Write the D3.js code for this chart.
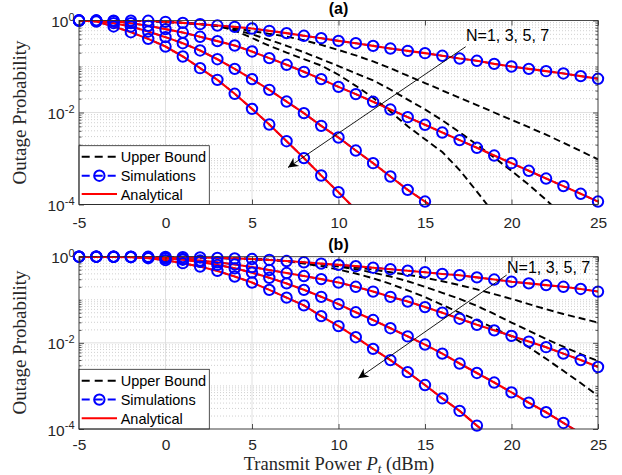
<!DOCTYPE html>
<html><head><meta charset="utf-8">
<script src="https://cdn.jsdelivr.net/npm/d3@7"></script>
<style>body{margin:0;background:#fff}</style>
</head><body><svg id="chart" width="622" height="475"></svg>
<script>
// ---------- data ----------
const powerDbm = [-5,-4,-3,-2,-1,0,1,2,3,4,5,6,7,8,9,10,11,12,13,14,15,16,17,18,19,20,21,22,23,24,25];
const xTicks = [-5,0,5,10,15,20,25];
const yTickExps = [0,-2,-4];
const legendLabels = ["Upper Bound","Simulations","Analytical"];
const arrowLabel = "N=1, 3, 5, 7";
const panelTitles = ["(a)","(b)"];
const xLabel = "Transmit Power ";
const yLabel = "Outage Probability";

// panel (a): analytical / simulation (N = 1, 3, 5, 7), values from -5 dBm upward
const a_N1 = [0.999,0.998,0.996,0.993,0.984,0.935,0.889,0.832,0.778,0.728,0.670,0.596,0.531,0.465,0.413,0.361,0.321,0.281,0.246,0.219,0.195,0.171,0.149,0.133,0.114,0.100,0.0889,0.0792,0.0705,0.0617,0.0540];
const a_N3 = [0.999,0.997,0.967,0.875,0.766,0.649,0.548,0.442,0.356,0.286,0.212,0.152,0.109,0.0766,0.0531,0.0361,0.0251,0.0171,0.0116,0.00792,0.00540,0.00367,0.00251,0.00171,0.00116,0.000792,0.000540,0.000367,0.000251,0.000171,0.000116];
const a_N5 = [0.999,0.984,0.875,0.741,0.577,0.435,0.321,0.223,0.144,0.0889,0.0531,0.0311,0.0173,0.00968,0.00513,0.00286,0.00149,0.000792,0.000406,0.000208,0.000116,0.0000627];
const a_N7 = [0.999,0.951,0.741,0.557,0.399,0.272,0.165,0.0920,0.0513,0.0255,0.0120,0.00548,0.00238,0.00102,0.000427,0.000185,0.0000766];
// panel (a): upper bounds
const a_UB1 = [0.999,0.998,0.996,0.993,0.984,0.935,0.889,0.832,0.759,0.676,0.589,0.513,0.447,0.372,0.295,0.229,0.174,0.129,0.0912,0.0631,0.0437,0.0302,0.0209,0.0145,0.0100,0.00692,0.00479,0.00331,0.00219,0.00145,0.000955];
const a_UB2 = [0.999,0.998,0.996,0.993,0.984,0.935,0.889,0.832,0.759,0.631,0.501,0.380,0.282,0.204,0.145,0.102,0.0708,0.0501,0.0316,0.0191,0.0117,0.00676,0.00372,0.00200,0.00105,0.000537,0.000269,0.000126,0.0000562];
const a_UB3 = [0.999,0.998,0.996,0.993,0.984,0.935,0.889,0.832,0.759,0.603,0.417,0.282,0.200,0.145,0.105,0.0661,0.0380,0.0209,0.0105,0.00501,0.00263,0.00138,0.000562,0.000191,0.0000631];

// panel (b)
const b_N1 = [0.999,0.999,0.999,0.999,0.995,0.989,0.977,0.959,0.937,0.912,0.881,0.841,0.794,0.741,0.692,0.646,0.603,0.556,0.513,0.473,0.437,0.398,0.372,0.331,0.295,0.263,0.240,0.219,0.200,0.178,0.155];
const b_N3 = [0.999,0.998,0.995,0.986,0.966,0.933,0.881,0.813,0.741,0.661,0.575,0.490,0.417,0.355,0.302,0.251,0.200,0.155,0.117,0.0912,0.0676,0.0501,0.0363,0.0263,0.0195,0.0145,0.0107,0.00794,0.00562,0.00398,0.00275];
const b_N5 = [0.999,0.998,0.998,0.989,0.966,0.923,0.851,0.759,0.646,0.537,0.427,0.324,0.240,0.170,0.117,0.0794,0.0513,0.0339,0.0219,0.0141,0.00912,0.00562,0.00331,0.00200,0.00120,0.000708,0.000407,0.000245,0.000138,0.0000794];
const b_N7 = [0.999,0.998,0.993,0.973,0.923,0.832,0.708,0.589,0.468,0.347,0.251,0.170,0.112,0.0741,0.0417,0.0245,0.0135,0.00724,0.00398,0.00209,0.00105,0.000513,0.000263,0.000120,0.0000562];
const b_UB1 = [0.999,0.999,0.999,0.999,0.995,0.989,0.977,0.959,0.937,0.912,0.881,0.841,0.794,0.724,0.676,0.617,0.562,0.501,0.437,0.380,0.324,0.269,0.219,0.174,0.135,0.105,0.0794,0.0603,0.0468,0.0372,0.0295];
const b_UB2 = [0.999,0.999,0.999,0.999,0.995,0.989,0.977,0.959,0.937,0.912,0.881,0.841,0.794,0.724,0.661,0.589,0.513,0.427,0.347,0.269,0.200,0.145,0.105,0.0724,0.0468,0.0295,0.0191,0.0123,0.00813,0.00550,0.00380];
const b_UB3 = [0.999,0.999,0.999,0.999,0.995,0.989,0.977,0.959,0.937,0.912,0.881,0.841,0.794,0.692,0.603,0.501,0.407,0.316,0.234,0.166,0.115,0.0759,0.0501,0.0339,0.0219,0.0141,0.00794,0.00427,0.00224,0.00117,0.000589];

// ---------- drawing ----------
const svg = d3.select('#chart');
const SANS = '"Liberation Sans", Arial, Helvetica, sans-serif';
const SERIF = '"Liberation Serif", "Times New Roman", serif';
const AXC = '#262626';
const L = 79, R = 598;
const defs = svg.append('defs');

const panels = [
  {name:'a', title:panelTitles[0], top:20.5, bottom:204.5, curves:[a_N1,a_N3,a_N5,a_N7], bounds:[a_UB1,a_UB2,a_UB3],
   legTop:145.7, legRows:[156.7,175.7,193.9], arrow:{x1:465.7,y1:46.7,x2:288,y2:167.5,tx:466,ty:40.7},
   titleY:13.5, ylabY:112.5, tickPad:12.5},
  {name:'b', title:panelTitles[1], top:256.7, bottom:429, curves:[b_N1,b_N3,b_N5,b_N7], bounds:[b_UB1,b_UB2,b_UB3],
   legTop:369.3, legRows:[380.7,399.6,418.3], arrow:{x1:506.7,y1:275,x2:358.3,y2:378.3,tx:507,ty:272.5},
   titleY:250, ylabY:342.5, tickPad:10}
];

function drawPanel(p) {
  const x = d3.scaleLinear().domain([-5, 25]).range([L, R]);
  const y = d3.scaleLog().domain([1e-4, 1]).range([p.bottom, p.top]);
  const g = svg.append('g');
  const clipId = 'clip' + p.name;
  defs.append('clipPath').attr('id', clipId).append('rect')
    .attr('x', L).attr('y', p.top).attr('width', R - L).attr('height', p.bottom - p.top);

  // minor values (log)
  const minorVals = [];
  for (let e = -4; e < 0; e++) for (let k = 2; k <= 9; k++) minorVals.push(k * Math.pow(10, e));
  const minorGrid = minorVals.concat([1e-3, 1e-1]);

  g.append('g').selectAll('line').data(minorGrid).join('line')
    .attr('x1', L).attr('x2', R).attr('y1', d => y(d)).attr('y2', d => y(d))
    .attr('stroke', '#bcbcbc').attr('stroke-width', 0.7).attr('stroke-dasharray', '1,2');
  g.append('g').selectAll('line').data(yTickExps.map(e => Math.pow(10, e))).join('line')
    .attr('x1', L).attr('x2', R).attr('y1', d => y(d)).attr('y2', d => y(d))
    .attr('stroke', '#dcdcdc').attr('stroke-width', 0.9);
  g.append('g').selectAll('line').data(xTicks).join('line')
    .attr('x1', d => x(d)).attr('x2', d => x(d)).attr('y1', p.top).attr('y2', p.bottom)
    .attr('stroke', '#dcdcdc').attr('stroke-width', 0.9);

  const line = d3.line().x(d => x(d[0])).y(d => y(d[1]));
  const pts = arr => arr.map((v, i) => [powerDbm[i], v]);
  const plot = g.append('g').attr('clip-path', `url(#${clipId})`);

  // upper bounds
  p.bounds.forEach(arr => {
    plot.append('path').attr('d', line(pts(arr))).attr('fill', 'none')
      .attr('stroke', '#000').attr('stroke-width', 1.9).attr('stroke-dasharray', '7,4');
  });
  // simulations (blue dashed + circles)
  p.curves.forEach(arr => {
    plot.append('path').attr('d', line(pts(arr))).attr('fill', 'none')
      .attr('stroke', '#0000ff').attr('stroke-width', 1.8).attr('stroke-dasharray', '7,4');
  });
  const mk = g.append('g');
  p.curves.forEach(arr => {
    mk.selectAll(null).data(pts(arr).filter(d => d[1] >= 1e-4)).join('circle')
      .attr('cx', d => x(d[0])).attr('cy', d => y(d[1])).attr('r', 5.2)
      .attr('fill', 'none').attr('stroke', '#0000ff').attr('stroke-width', 2);
  });
  // analytical
  p.curves.forEach(arr => {
    plot.append('path').attr('d', line(pts(arr))).attr('fill', 'none')
      .attr('stroke', '#ff0000').attr('stroke-width', 2.1);
  });

  // axes ticks
  const styleAxis = sel => {
    sel.select('.domain').remove();
    sel.selectAll('line').attr('stroke', AXC).attr('stroke-width', 0.8);
    sel.selectAll('text').attr('fill', AXC).attr('font-family', SANS).attr('font-size', 15.5);
  };
  g.append('g').attr('transform', `translate(0,${p.bottom})`)
    .call(d3.axisBottom(x).tickValues(xTicks).tickSize(-5).tickPadding(p.tickPad).tickFormat(d => String(d)))
    .call(styleAxis);
  g.append('g').attr('transform', `translate(0,${p.top})`)
    .call(d3.axisTop(x).tickValues(xTicks).tickSize(-5).tickFormat(''))
    .call(styleAxis);
  const majorY = yTickExps.map(e => Math.pow(10, e));
  g.append('g').attr('transform', `translate(${L},0)`)
    .call(d3.axisLeft(y).tickValues(majorY).tickSize(-5).tickFormat(''))
    .call(styleAxis);
  g.append('g').attr('transform', `translate(${L},0)`)
    .call(d3.axisLeft(y).tickValues(minorGrid).tickSize(-2.5).tickFormat(''))
    .call(styleAxis);
  g.append('g').attr('transform', `translate(${R},0)`)
    .call(d3.axisRight(y).tickValues(majorY).tickSize(-5).tickFormat(''))
    .call(styleAxis);
  g.append('g').attr('transform', `translate(${R},0)`)
    .call(d3.axisRight(y).tickValues(minorGrid).tickSize(-2.5).tickFormat(''))
    .call(styleAxis);

  // y tick labels 10^e
  yTickExps.forEach(e => {
    const t = g.append('text').attr('x', L - 4.5).attr('y', y(Math.pow(10, e)) + 6.5)
      .attr('text-anchor', 'end').attr('fill', AXC).attr('font-family', SANS).attr('font-size', 15.5);
    t.append('tspan').text('10');
    t.append('tspan').attr('dy', -6.5).attr('font-size', 11).text(String(e));
  });

  // legend
  const lg = g.append('g');
  lg.append('rect').attr('x', L).attr('y', p.legTop).attr('width', 209.3 - L).attr('height', p.bottom - p.legTop)
    .attr('fill', '#fff').attr('stroke', AXC).attr('stroke-width', 0.8);
  const lx1 = 81.7, lx2 = 117;
  const styles = [
    {stroke:'#000', dash:'8,5', marker:false},
    {stroke:'#0000ff', dash:'8,5', marker:true},
    {stroke:'#ff0000', dash:null, marker:false}
  ];
  legendLabels.forEach((lab, i) => {
    const cy = p.legRows[i];
    lg.append('line').attr('x1', lx1).attr('x2', lx2).attr('y1', cy).attr('y2', cy)
      .attr('stroke', styles[i].stroke).attr('stroke-width', 2)
      .attr('stroke-dasharray', styles[i].dash);
    if (styles[i].marker) lg.append('circle').attr('cx', (lx1 + lx2) / 2).attr('cy', cy).attr('r', 5.2)
      .attr('fill', 'none').attr('stroke', '#0000ff').attr('stroke-width', 2);
    lg.append('text').attr('x', 120.7).attr('y', cy + 5.6).text(lab)
      .attr('font-family', SANS).attr('font-size', 14.5).attr('fill', '#000');
  });

  // box
  g.append('rect').attr('x', L).attr('y', p.top).attr('width', R - L).attr('height', p.bottom - p.top)
    .attr('fill', 'none').attr('stroke', AXC).attr('stroke-width', 0.8);

  // arrow annotation
  const a = p.arrow;
  g.append('line').attr('x1', a.x1).attr('y1', a.y1).attr('x2', a.x2).attr('y2', a.y2)
    .attr('stroke', '#000').attr('stroke-width', 0.9);
  const ang = Math.atan2(a.y2 - a.y1, a.x2 - a.x1);
  const hl = 10, hw = 5, notch = 7;
  const ux = Math.cos(ang), uy = Math.sin(ang), nx = -uy, ny = ux;
  const tip = [a.x2, a.y2];
  const bx = a.x2 - ux * hl, by = a.y2 - uy * hl;
  const headPts = [tip, [bx + nx * hw, by + ny * hw], [a.x2 - ux * notch, a.y2 - uy * notch], [bx - nx * hw, by - ny * hw]];
  g.append('path').attr('d', 'M' + headPts.map(q => q.join(',')).join('L') + 'Z').attr('fill', '#000');
  g.append('text').attr('x', a.tx).attr('y', a.ty).text(arrowLabel)
    .attr('font-family', SANS).attr('font-size', 16).attr('fill', '#000');

  // title
  g.append('text').attr('x', (L + R) / 2).attr('y', p.titleY).attr('text-anchor', 'middle')
    .attr('font-family', SANS).attr('font-weight', 'bold').attr('font-size', 16).attr('fill', '#000').text(p.title);

  // y label
  g.append('text').attr('transform', `translate(26,${p.ylabY}) rotate(-90)`).attr('text-anchor', 'middle')
    .attr('font-family', SERIF).attr('font-size', 19).attr('fill', AXC).text(yLabel);
}

panels.forEach(drawPanel);

// x label
const xl = svg.append('text').attr('x', 339).attr('y', 469.5).attr('text-anchor', 'middle')
  .attr('font-family', SERIF).attr('font-size', 18.5).attr('fill', AXC);
xl.append('tspan').text(xLabel);
xl.append('tspan').attr('font-style', 'italic').text('P');
xl.append('tspan').attr('font-style', 'italic').attr('font-size', 13).attr('dy', 3).text('t');
xl.append('tspan').attr('dy', -3).text(' (dBm)');
</script>
</body></html>
